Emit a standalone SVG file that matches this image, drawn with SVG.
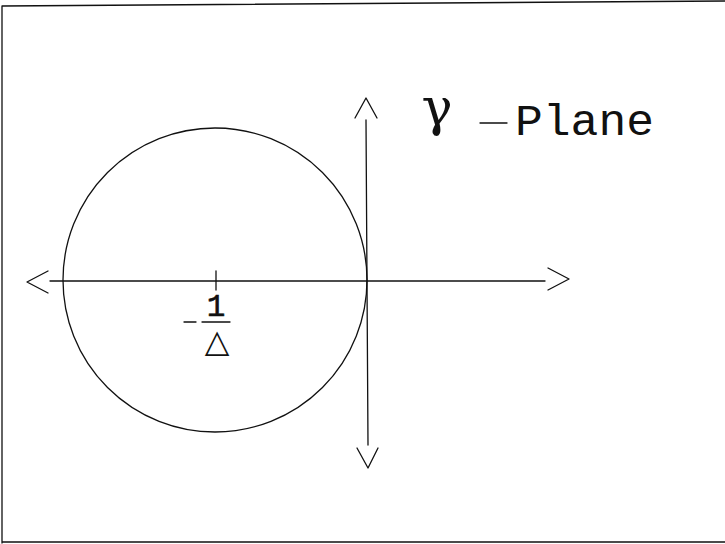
<svg xmlns="http://www.w3.org/2000/svg" width="725" height="544" viewBox="0 0 725 544">
<style>
.ln{fill:none;stroke:#111;stroke-width:1.3;stroke-linecap:round;stroke-linejoin:round}
.tx{fill:#111;font-family:"Liberation Mono","DejaVu Sans Mono",monospace}
.sx{fill:#111;font-family:"DejaVu Sans","Liberation Sans",sans-serif}
.sf{fill:#111;font-family:"DejaVu Serif","Liberation Serif",serif}
</style>
<rect width="725" height="544" fill="#fff"/>
<g id="frame">
<path class="ln" d="M2,6 L725,1 M2,6 L2,543 M2,542 L725,542"/>
</g>
<g id="circle">
<circle class="ln" cx="215" cy="280" r="152"/>
</g>
<g id="connectors">
<path class="ln" d="M50,281 L545,281"/>
<path class="ln" d="M48,271 L27,282 L48,293"/>
<path class="ln" d="M548,268 L569,279 L548,290"/>
<path class="ln" d="M366,120 L368,445"/>
<path class="ln" d="M355,118 L366,98 L377,118"/>
<path class="ln" d="M357,448 L368,468 L378,448"/>
<path class="ln" d="M216,271 L216,290"/>
</g>
<g id="label-center">
<path class="ln" d="M184,322 L196,322 M202,322 L230,322"/>
<text class="tx" x="216" y="316" font-size="31" stroke="#111" stroke-width="0.6" text-anchor="middle">1</text>
<text class="sx" x="217" y="352" font-size="32" text-anchor="middle">△</text>
</g>
<g id="title">
<text class="sf" x="437" y="125" font-size="52" text-anchor="middle">γ</text>
<path class="ln" d="M480,123 L507,123"/>
<text class="tx" x="515" y="135" font-size="44" textLength="139" lengthAdjust="spacingAndGlyphs">Plane</text>
</g>
</svg>
